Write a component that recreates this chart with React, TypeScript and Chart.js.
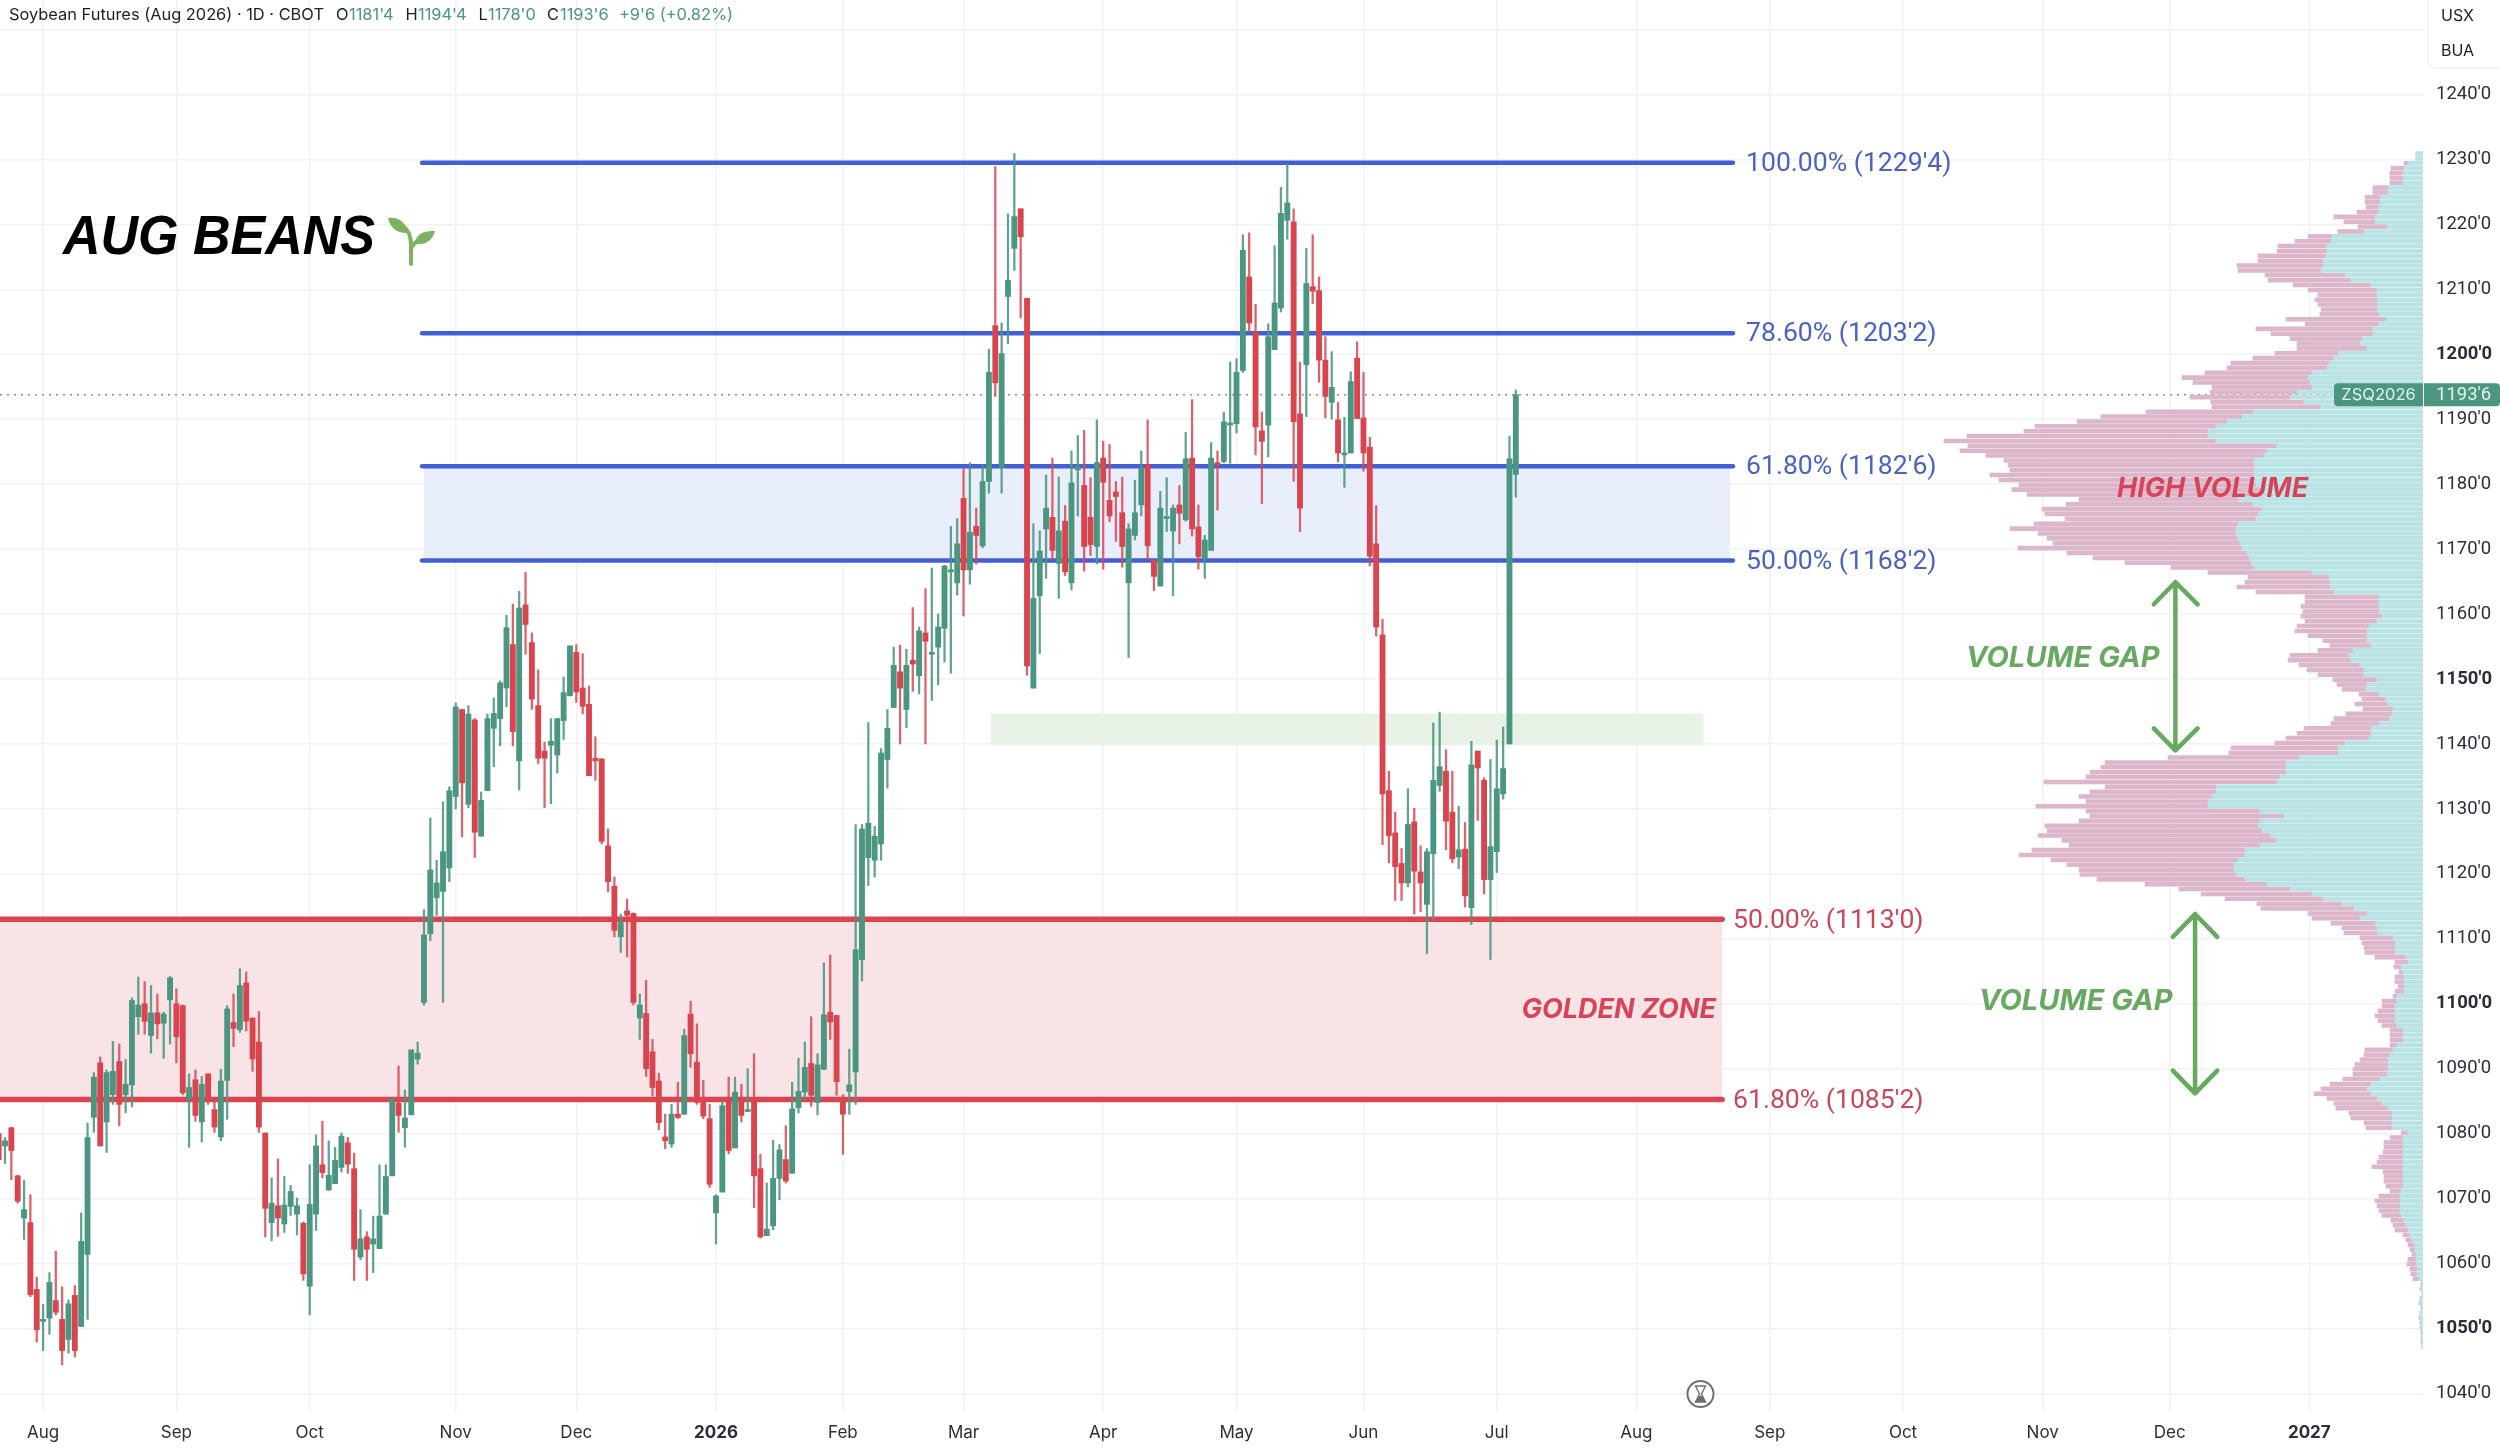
import React, { useEffect, useRef } from "react";
import { Chart, registerables } from "chart.js";

Chart.register(...registerables);

// ---------- candle data (one entry per trading day) ----------
const opens = [
  1080,1078.1,1080.9,1073.5,1067,1066.3,1056,1051.1,1051.6,1054.3,
  1051.4,1048.3,1055.1,1050.3,1061.4,1082.5,1090.9,1081.8,1086,1091.1,
  1086,1087.5,1098,1100,1095.1,1098.6,1097,1100.6,1100,1099.7,
  1085.3,1088.3,1081.8,1089.2,1083.7,1079.5,1088.2,1097.1,1096,1103.2,
  1097.8,1094.1,1080.1,1066.3,1068.9,1066.1,1068.8,1067.6,1066.2,1056.5,
  1067.6,1075.2,1071.3,1072.3,1074.8,1078.6,1074.6,1061,1064.1,1063,
  1062.3,1067.6,1073.5,1084.7,1080.9,1082.9,1091.5,1100.2,1110.8,1116.3,
  1117.3,1120.9,1131.9,1145.3,1130.7,1143.7,1125.8,1132.8,1142.4,1143.9,
  1148.6,1155.3,1137.4,1161.4,1155.6,1145.9,1138.9,1139.8,1138.3,1143.6,
  1147.4,1154.1,1148.6,1146.1,1137.8,1137.7,1124.3,1118.1,1110.3,1114.3,
  1113.9,1097.8,1098.5,1092.6,1088.1,1079.5,1078.4,1083,1083,1098.4,
  1091,1084.8,1082.3,1067.8,1071,1085.3,1077.8,1085.5,1083.4,1084.9,
  1074.6,1064.3,1065.8,1073.1,1076,1073.9,1084,1086.4,1090.8,1084.8,
  1089.9,1098.7,1098.2,1085.6,1086.5,1089.5,1106.8,1122.5,1122.1,1124.6,
  1137.6,1145.6,1151.1,1145.3,1152.9,1150.5,1157.1,1153.8,1154.9,1157.8,
  1166.5,1164.8,1177.8,1166.8,1173.5,1170.5,1180.4,1204.4,1182.6,1208.9,
  1216.3,1222.4,1208.6,1148.6,1162.8,1173.1,1174.9,1167.8,1174.3,1164.8,
  1182.2,1179.8,1174.9,1170.4,1184,1177.5,1178.8,1175.6,1164.8,1172.1,
  1176.8,1183,1168.3,1164.3,1174.7,1172.8,1176.8,1174.5,1184,1173.4,
  1168.5,1169.8,1183.3,1183.5,1189.1,1189.3,1197.5,1211.9,1203.4,1188.2,
  1189.1,1200.7,1207.1,1220.6,1220.4,1190.8,1198.4,1210.4,1209.8,1199.1,
  1192.6,1189.9,1184.5,1184.8,1199.4,1190.2,1185.7,1170.8,1156.8,1132.8,
  1126.3,1121.6,1118.6,1128,1120.3,1115.3,1123.1,1133.6,1135.8,1129.5,
  1122.6,1123.8,1114.8,1138.9,1134.4,1119.1,1123.4,1132.3,1140,1181.5,
];
const highs = [
  1080.5,1079.4,1081,1073.6,1072.8,1070.6,1057.9,1053.7,1058.6,1061.9,
  1056.4,1054.4,1056.6,1067.8,1081.6,1089.4,1091.8,1089.8,1094.2,1093.8,
  1091.4,1100.9,1104.1,1103.4,1102.8,1101.5,1098.7,1104.2,1102.3,1099.8,
  1089.2,1089.8,1088.8,1089.2,1085.6,1089.9,1099.7,1101.5,1105.4,1104.9,
  1097.8,1098.8,1080.1,1073.2,1076.1,1073.4,1072,1070.1,1066.4,1075.2,
  1079.8,1081.9,1078.9,1077.9,1080.1,1079.4,1077,1068.3,1064.9,1067.3,
  1075.2,1075.2,1085.6,1090.4,1086.7,1092.9,1094.1,1114.5,1128.6,1122.1,
  1131.1,1133.4,1146.3,1145.3,1145.9,1143.9,1132.6,1144.6,1147.1,1149.7,
  1159.8,1161.5,1163.5,1166.4,1157.1,1151.4,1140.3,1143.9,1143.9,1150.3,
  1155.1,1155.3,1153.9,1148.9,1141.1,1137.7,1126.9,1119.5,1113.8,1116.1,
  1114,1101.5,1103.6,1094.5,1089.3,1083,1084.5,1087.9,1096.1,1100.4,
  1096.9,1088.2,1084.5,1070.6,1084.9,1088.7,1088.7,1087.6,1090,1092.3,
  1076.8,1072.4,1079,1078.3,1081.2,1087.9,1091.6,1094.1,1098,1092.3,
  1106.3,1107.5,1098.2,1086,1093,1127.6,1127.6,1143.3,1127.3,1139.3,
  1145.3,1154.9,1155.2,1154.6,1161,1158,1163.9,1167.1,1160,1167.5,
  1173.5,1174.7,1182.4,1183.3,1176.3,1183,1200.8,1228.9,1204.8,1221.6,
  1230.9,1222.4,1208.6,1173.9,1172.8,1181.4,1184,1181.1,1176.7,1185.1,
  1187.5,1188.3,1181,1189.9,1186.6,1186.1,1180.4,1181.1,1173.9,1180.6,
  1185.1,1189.9,1168.3,1178.9,1181,1176.8,1179.8,1188,1193,1176.8,
  1172.1,1186.4,1185.1,1191.1,1198.8,1199.3,1218.4,1218.7,1207.7,1191.1,
  1204.7,1216.7,1225.7,1229.3,1222.4,1198.8,1216.3,1218.4,1211.9,1202.7,
  1200.4,1192.6,1190.3,1197.3,1201.9,1197.2,1187.2,1176.7,1159.2,1135.8,
  1129.5,1123.9,1133.1,1130.1,1124.3,1123.9,1143.2,1144.9,1139.1,1135.8,
  1130.4,1127.9,1140.4,1138.9,1134.8,1137.6,1140.6,1142.6,1187.4,1194.5,
];
const lows = [
  1075,1075.4,1072.9,1069.3,1063.7,1054.9,1047.9,1046.6,1049.1,1052.1,
  1044.4,1046.2,1045.6,1050.3,1051.4,1080.2,1078.1,1077.1,1084.5,1081.2,
  1083.2,1084.1,1095.3,1095.3,1092.4,1094.6,1091.6,1093.8,1090.9,1086,
  1077.9,1081.9,1078.7,1084.5,1080.2,1078.9,1082.2,1093.4,1095.6,1095.8,
  1089.6,1080.2,1064.1,1063.5,1064.2,1064.8,1067.4,1064.4,1057.4,1052.1,
  1065.1,1073.2,1071.3,1072.3,1074.1,1073.9,1057.4,1060.6,1057.4,1058.6,
  1062.3,1067.6,1073.5,1080.2,1077.9,1082.9,1090.7,1099.8,1109.7,1113.6,
  1100.2,1118.8,1130,1125.7,1130.2,1122.5,1125.8,1132.8,1136.5,1139.7,
  1145.7,1139.7,1132.9,1153.8,1145.3,1137,1130.2,1130.8,1135.5,1140.7,
  1147.4,1146.4,1144.6,1135.1,1134.4,1124.6,1117.2,1110.3,1107.9,1107.2,
  1099.8,1094.5,1088.8,1085.8,1080.6,1077.7,1077.9,1082.3,1082.9,1090.2,
  1084.5,1082.3,1071.7,1063,1071,1076.9,1077.8,1081.8,1083.4,1068.6,
  1063.9,1064.3,1065.2,1069.8,1072.4,1073.9,1083.2,1085.3,1084.2,1082.9,
  1089.9,1094.5,1085.9,1076.8,1083,1084.5,1103.5,1118.2,1119.5,1122.1,
  1133.2,1145.6,1140,1142.5,1148.1,1147.7,1140,1146.7,1149.1,1152.6,
  1150.9,1162.9,1159.7,1164.6,1167.7,1170.2,1178.6,1193.5,1178.6,1201.6,
  1212.9,1205.6,1150.6,1148.6,1153.9,1165.5,1168.4,1162.4,1165.9,1163.7,
  1175.1,1166.6,1169,1167.7,1166.9,1174.2,1171.2,1167.2,1153.3,1171.4,
  1175.1,1168.4,1163.6,1164.3,1172.7,1162.8,1170.8,1174.3,1172,1166.9,
  1165.5,1169.8,1176,1183.3,1183.2,1187.9,1197.2,1203.4,1184.5,1177,
  1184.2,1200.7,1206.5,1217.7,1180.4,1172.7,1190.4,1207.8,1195.7,1190.2,
  1190,1183.4,1179.5,1184.8,1190.1,1182,1167.4,1156.6,1124.5,1121.7,
  1115.9,1115.9,1118,1113.8,1114.2,1107.7,1112.8,1132.7,1123.7,1121.7,
  1120.8,1114.9,1112.2,1128.2,1116.9,1106.8,1120.2,1131.5,1140,1178,
];
const closes = [
  1076,1078.9,1077.4,1069.6,1068.3,1055.2,1049.8,1051.3,1057.1,1052.5,
  1046.6,1053.8,1046.6,1063.4,1079.4,1088.7,1078.1,1089.4,1089.6,1084.5,
  1087.6,1100.5,1099.8,1097.3,1098.6,1096.9,1098.4,1104,1094.9,1086.3,
  1087.1,1082.8,1087.6,1085.5,1081,1088.1,1099.2,1096.2,1102.8,1097.3,
  1091.5,1081,1068.5,1069.3,1067,1069,1071.1,1068.9,1058.4,1069.1,
  1078.1,1074,1073.6,1075.9,1079.6,1075.3,1062.2,1063.8,1062.2,1063.8,
  1067.3,1073.4,1085.2,1082.8,1082.4,1092.9,1092.4,1110.6,1120.6,1118.6,
  1123.4,1132.8,1145.7,1134,1144.6,1126.4,1131.3,1143.9,1144.7,1149.4,
  1157.9,1141.9,1160.9,1158.4,1146.9,1137.8,1137.8,1140.4,1143.9,1147.9,
  1155.1,1148,1145.8,1135.1,1137.4,1125,1118.8,1111.3,1112.5,1113.6,
  1100.2,1099.8,1090,1087.1,1081.7,1078.9,1083,1082.5,1095.1,1092.3,
  1084.8,1082.7,1072.2,1070.4,1084.3,1077.4,1086.4,1082.8,1083.7,1073.5,
  1064.1,1065.3,1073.1,1077.5,1072.7,1083.8,1086.5,1090.2,1085.9,1090.6,
  1098.3,1097.2,1088,1083,1087.5,1108.3,1126.9,1127.8,1125.8,1138.6,
  1142.4,1152.1,1148.6,1152.1,1152.3,1157.4,1155.8,1154,1158,1167.4,
  1166.6,1170.8,1166.8,1172.6,1172.1,1180.4,1197.2,1195.6,1200.1,1211.4,
  1221.2,1218.1,1152,1162.4,1169.7,1176.3,1169.8,1172.8,1166.5,1180.2,
  1182.7,1170.4,1170.7,1183.3,1180.3,1175.1,1178.1,1170.4,1173.1,1175.6,
  1182.4,1170.5,1165.8,1176.3,1174.8,1176.3,1175.5,1183.9,1173.1,1168.8,
  1171.4,1184,1183,1189.6,1189.3,1197.2,1216,1204.8,1188.8,1186.6,
  1202.7,1207.9,1221.7,1223.3,1189.6,1176.3,1210.9,1209.7,1199.1,1193.5,
  1194.9,1184.8,1184.8,1195.8,1190.1,1184.8,1168.9,1158,1132.3,1125.9,
  1121.1,1118.6,1127.6,1120.4,1118.6,1123.4,1134.4,1136.5,1128.1,1122.3,
  1123.7,1116.6,1136.8,1136.3,1119.1,1124.2,1133.1,1136.2,1183.9,1193.75,
];

// ---------- volume profile, one row per 0'6 of price, top to bottom ----------
const upVolume = [
  7,7,15,19,20,20,20,35,35,43,
  43,44,44,48,48,36,59,91,92,96,
  96,97,100,100,102,78,72,52,46,46,
  46,46,46,44,37,44,50,50,61,63,56,
  85,89,94,96,111,115,113,111,126,133,
  119,102,170,181,196,207,215,215,207,146,
  156,159,169,169,169,169,169,167,161,161,
  185,170,161,165,167,185,187,187,185,183,
  181,176,174,172,169,111,94,93,93,89,
  44,44,44,44,41,46,54,56,56,56,52,
  70,74,72,63,59,59,46,56,57,44,
  37,35,30,31,33,44,52,52,54,78,85,
  85,124,137,137,137,143,146,207,207,211,
  215,215,163,139,163,165,161,152,146,163,
  178,178,185,189,189,187,178,156,133,111,
  100,81,69,56,63,48,46,46,30,28,
  28,28,17,15,22,20,19,19,19,19,
  26,26,28,28,28,28,26,20,20,20,
  26,30,33,35,35,35,36,43,52,56,
  52,46,41,35,31,31,31,31,15,20,
  20,20,20,20,20,20,20,20,20,20,
  22,23,23,23,23,22,19,17,15,13,
  11,9,8,7,7,7,6,6,4,
  1,2,1,2,3,1,3,3,2,3,1,2,1,1,
];
const downVolume = [
  0,0,4,13,13,13,13,15,15,15,
  15,13,22,41,31,29,26,24,36,49,
  50,68,65,86,83,80,83,78,69,59,
  62,59,56,59,100,74,117,102,72,63,70,
  63,81,98,100,107,126,117,100,87,100,
  93,109,107,141,150,181,184,241,272,309,
  307,278,250,246,244,264,255,237,250,235,
  159,187,220,213,191,204,226,198,191,187,
  224,180,156,126,83,104,81,85,93,78,
  74,74,78,76,81,72,72,72,59,44,41,
  35,59,63,61,57,46,44,30,24,20,
  24,33,30,46,56,48,67,74,83,70,107,
  109,131,181,185,196,194,233,111,126,133,
  122,172,174,194,181,213,215,233,215,191,
  213,226,187,167,155,156,148,122,111,111,
  98,85,93,59,48,44,35,33,33,33,
  31,30,31,13,7,4,9,9,6,9,
  4,15,13,17,20,17,15,13,13,13,
  7,28,26,28,33,35,34,37,41,46,
  57,50,48,52,43,41,28,26,7,13,
  19,19,20,24,26,31,20,19,19,17,
  11,21,25,23,21,19,13,13,13,7,
  6,6,5,4,8,9,7,6,6,
  1,1,0,1,1,1,0,1,1,0,1,0,1,0,
];
const volumeTopPrice = 1230.9;
const volumeRowStep = 0.75;
const volumeRowPrices = upVolume.map((_, r) => volumeTopPrice - r * volumeRowStep);

// ---------- levels ----------
const blueFibLevels = [1229.5, 1203.25, 1182.75, 1168.25];
const blueFibLabels = ["100.00% (1229'4)", "78.60% (1203'2)", "61.80% (1182'6)", "50.00% (1168'2)"];
const redFibLevels = [1113, 1085.25];
const redFibLabels = ["50.00% (1113'0)", "61.80% (1085'2)"];
const lastPrice = 1193.75;
const gapZone = [1139.8, 1144.7];

// ---------- axes ----------
const priceTicks = [1040,1050,1060,1070,1080,1090,1100,1110,1120,1130,1140,1150,1160,1170,1180,1190,1200,1210,1220,1230,1240,1250];
const boldPriceTicks = [1050, 1100, 1150, 1200];
const hiddenPriceTicks = [1250];
const monthTickBars = [7,28,49,72,91,113,133,152,174,195,215,236,258,279,300,322,342,364];
const monthTickLabels = ["Aug","Sep","Oct","Nov","Dec","2026","Feb","Mar","Apr","May","Jun","Jul","Aug","Sep","Oct","Nov","Dec","2027"];
const boldMonthLabels = ["2026", "2027"];

// ---------- arrows (bar number, price) ----------
const upperGapArrowBars = [339.5,342.9,346.4,342.9,342.9,339.5,342.9,346.4];
const upperGapArrowPrices = [1161.5,1164.9,1161.5,1164.9,1139,1142.4,1139,1142.4];
const lowerGapArrowBars = [342.5,346,349.5,346,346,342.5,346,349.5];
const lowerGapArrowPrices = [1110.3,1113.8,1110.3,1113.8,1086.2,1089.7,1086.2,1089.7];

// ---------- styling ----------
const WIDTH = 2500;
const HEIGHT = 1448;
const AXIS_W = 77;
const AXIS_H = 36;
const PLOT_W = WIDTH - AXIS_W;
const BAR_PX = 6.348;
const X_MIN = 0.2127;
const X_MAX = X_MIN + PLOT_W / BAR_PX;
const Y_MAX = 1254.54;
const Y_MIN = 1037.14;
const GREEN = "#4a9680";
const RED = "#d9454f";
const GREEN_WICK = "rgba(74,150,128,0.88)";
const RED_WICK = "rgba(217,69,79,0.85)";
const BLUE_LINE = "#4160d8";
const RED_LINE = "#dc4550";
const BLUE_TEXT = "#4a63c0";
const RED_TEXT = "#c8485a";
const NOTE_GREEN = "#67a960";
const NOTE_RED = "#d8435a";
const GRID = "#f1f2f4";
const FONT = "Inter";
const NUM_FONT = "Roboto";

const hline = (x0: number, x1: number, y: number) => [{ x: x0, y }, { x: x1, y }];

function lineSet(data: any[], color: string, width: number, order: number, extra: any = {}) {
  return {
    type: "line",
    data,
    borderColor: color,
    borderWidth: width,
    pointRadius: 0,
    borderCapStyle: "round",
    borderJoinStyle: "round",
    tension: 0,
    fill: false,
    order,
    ...extra,
  };
}

function bandSet(x0: number, x1: number, top: number, bottom: number, color: string, order: number) {
  return lineSet(hline(x0, x1, top), "rgba(0,0,0,0)", 0, order, {
    fill: { value: bottom },
    backgroundColor: color,
  });
}

const text = (
  ctx: CanvasRenderingContext2D,
  s: string,
  x: number,
  y: number,
  font: string,
  color: string,
  align: CanvasTextAlign = "left"
) => {
  ctx.font = font;
  ctx.fillStyle = color;
  ctx.textAlign = align;
  ctx.textBaseline = "middle";
  ctx.fillText(s, x, y);
};

const overlayPlugin = {
  id: "overlay",
  afterDatasetsDraw(chart: any) {
    const ctx: CanvasRenderingContext2D = chart.ctx;
    const yS = chart.scales.y;
    ctx.save();

    // fib labels
    blueFibLevels.forEach((lvl, i) =>
      text(ctx, blueFibLabels[i], 1746, yS.getPixelForValue(lvl) + 1.5, `400 26.6px ${NUM_FONT}`, BLUE_TEXT)
    );
    redFibLevels.forEach((lvl, i) =>
      text(ctx, redFibLabels[i], 1733, yS.getPixelForValue(lvl) + 2, `400 26.6px ${NUM_FONT}`, RED_TEXT)
    );

    // notes
    const noteFont = `italic 700 27px ${FONT}`;
    text(ctx, "GOLDEN ZONE", 1716, 1009.5, noteFont, NOTE_RED, "right");
    text(ctx, "HIGH VOLUME", 2117, 489, noteFont, NOTE_RED);
    text(ctx, "VOLUME GAP", 1966, 658.5, `italic 700 29px ${FONT}`, NOTE_GREEN);
    text(ctx, "VOLUME GAP", 1979, 1001.5, `italic 700 29px ${FONT}`, NOTE_GREEN);

    // title, a little condensed
    ctx.save();
    ctx.translate(63, 239);
    ctx.scale(0.945, 1);
    text(ctx, "AUG BEANS", 0, 0, `italic 700 55px "Liberation Sans"`, "#000000");
    ctx.restore();

    // sprout
    ctx.strokeStyle = "#7fb162";
    ctx.fillStyle = "#7fb162";
    ctx.lineWidth = 4;
    ctx.lineCap = "round";
    ctx.beginPath();
    ctx.moveTo(411, 264);
    ctx.lineTo(411, 245);
    ctx.quadraticCurveTo(411, 232, 403, 226);
    ctx.moveTo(411, 250);
    ctx.quadraticCurveTo(412, 244, 418, 241);
    ctx.stroke();
    ctx.beginPath();
    ctx.moveTo(388, 218);
    ctx.quadraticCurveTo(404, 216, 408, 233);
    ctx.quadraticCurveTo(392, 234, 388, 218);
    ctx.fill();
    ctx.beginPath();
    ctx.moveTo(435, 231);
    ctx.quadraticCurveTo(431, 246, 414, 244);
    ctx.quadraticCurveTo(417, 230, 435, 231);
    ctx.fill();

    // header
    const hFont = `400 16.4px ${FONT}`;
    const hY = 15.5;
    text(ctx, "Soybean Futures (Aug 2026) \u00b7 1D \u00b7 CBOT", 9, hY, hFont, "#1b1f27");
    const headerLetters: [string, number][] = [["O", 336], ["H", 405.5], ["L", 478.5], ["C", 547]];
    const headerValues: [string, number][] = [["1181'4", 349], ["1194'4", 418], ["1178'0", 488], ["1193'6", 560], ["+9'6 (+0.82%)", 619]];
    headerLetters.forEach(([s, x]) => text(ctx, s, x, hY, hFont, "#1b1f27"));
    headerValues.forEach(([s, x]) => text(ctx, s, x, hY, hFont, GREEN));

    // currency / unit box
    ctx.fillStyle = "#ffffff";
    ctx.strokeStyle = "#f0f1f3";
    ctx.lineWidth = 1.5;
    ctx.beginPath();
    ctx.roundRect(2428, -10, 90, 78, 8);
    ctx.fill();
    ctx.stroke();
    text(ctx, "USX", 2441, 16, `400 16px ${FONT}`, "#1b1f27");
    text(ctx, "BUA", 2441, 51, `400 16px ${FONT}`, "#1b1f27");

    // last price tags
    const tagY = yS.getPixelForValue(lastPrice);
    ctx.fillStyle = GREEN;
    ctx.beginPath();
    ctx.roundRect(2334, tagY - 11.5, 89, 23, [4, 0, 0, 4]);
    ctx.fill();
    ctx.beginPath();
    ctx.roundRect(2424, tagY - 11.5, 76, 23, [0, 4, 4, 0]);
    ctx.fill();
    text(ctx, "ZSQ2026", 2378.5, tagY + 0.5, `400 16.5px ${FONT}`, "#e4f2ee", "center");
    text(ctx, "1193'6", 2436, tagY + 0.5, `400 18.5px ${NUM_FONT}`, "#e4f2ee");

    // hourglass
    const hx = 1700.5;
    const hyc = 1394;
    ctx.strokeStyle = "#6f6f6f";
    ctx.lineWidth = 2;
    ctx.fillStyle = "#ffffff";
    ctx.beginPath();
    ctx.arc(hx, hyc, 13, 0, Math.PI * 2);
    ctx.fill();
    ctx.stroke();
    ctx.fillStyle = "#6f6f6f";
    ctx.lineWidth = 1.4;
    ctx.beginPath();
    ctx.moveTo(hx - 5, hyc - 8);
    ctx.lineTo(hx + 5, hyc - 8);
    ctx.lineTo(hx + 1, hyc);
    ctx.lineTo(hx + 5, hyc + 8);
    ctx.lineTo(hx - 5, hyc + 8);
    ctx.lineTo(hx - 1, hyc);
    ctx.closePath();
    ctx.stroke();
    ctx.beginPath();
    ctx.moveTo(hx - 5, hyc + 8);
    ctx.lineTo(hx + 5, hyc + 8);
    ctx.lineTo(hx + 2, hyc + 2);
    ctx.lineTo(hx - 2, hyc + 2);
    ctx.closePath();
    ctx.fill();

    ctx.restore();
  },
};

export default function App() {
  const ref = useRef<HTMLCanvasElement | null>(null);

  useEffect(() => {
    if (!ref.current) return;

    const candleColors = closes.map((c, i) => (c >= opens[i] ? GREEN : RED));
    const wickColors = closes.map((c, i) => (c >= opens[i] ? GREEN_WICK : RED_WICK));
    const wickData = highs.map((h, i) => ({ x: i, y: [lows[i], h] }));
    const bodyData = opens.map((o, i) => ({ x: i, y: [Math.min(o, closes[i]), Math.max(o, closes[i])] }));

    const barCommon = {
      type: "bar",
      grouped: false,
      categoryPercentage: 1,
      barPercentage: 1,
      borderWidth: 0,
    };

    const datasets: any[] = [
      // zones
      bandSet(X_MIN, 271.5, redFibLevels[0], redFibLevels[1], "#f8e3e6", 100),
      bandSet(67, 272.8, blueFibLevels[2], blueFibLevels[3], "#e9eefc", 99),
      bandSet(156.3, 268.6, gapZone[1], gapZone[0], "#e8f2e6", 98),
      // level lines
      ...redFibLevels.map((l) => lineSet(hline(X_MIN, 271.5, l), RED_LINE, 5.5, 90)),
      ...blueFibLevels.map((l) => lineSet(hline(66.7, 273.2, l), BLUE_LINE, 4.5, 90)),
      lineSet(hline(X_MIN, X_MAX, lastPrice), "#8f8f8f", 1.5, 85, { borderDash: [2, 5], borderCapStyle: "butt" }),
      // volume profile
      {
        ...barCommon,
        indexAxis: "y",
        xAxisID: "vol",
        yAxisID: "y",
        stack: "profile",
        data: upVolume.map((v, r) => ({ x: v, y: volumeRowPrices[r] })),
        backgroundColor: "#b9e3e4",
        barThickness: 3.9,
        order: 80,
      },
      {
        ...barCommon,
        indexAxis: "y",
        xAxisID: "vol",
        yAxisID: "y",
        stack: "profile",
        data: downVolume.map((v, r) => ({ x: v, y: volumeRowPrices[r] })),
        backgroundColor: "#dcb6ca",
        barThickness: 3.9,
        order: 80,
      },
      // candles
      { ...barCommon, data: wickData, backgroundColor: wickColors, barThickness: 1.6, order: 20 },
      { ...barCommon, data: bodyData, backgroundColor: candleColors, barThickness: 5.2, minBarLength: 2, order: 10 },
      // arrows
      lineSet(upperGapArrowBars.map((x, i) => ({ x, y: upperGapArrowPrices[i] })), NOTE_GREEN, 4.5, 5),
      lineSet(lowerGapArrowBars.map((x, i) => ({ x, y: lowerGapArrowPrices[i] })), NOTE_GREEN, 4.5, 5),
    ];

    const chart = new Chart(ref.current, {
      type: "bar",
      data: { datasets },
      options: {
        responsive: false,
        animation: false,
        devicePixelRatio: 1,
        events: [],
        layout: { padding: 0 },
        plugins: { legend: { display: false }, tooltip: { enabled: false }, title: { display: false } },
        scales: {
          x: {
            type: "linear",
            min: X_MIN,
            max: X_MAX,
            offset: false,
            position: "bottom",
            border: { display: false },
            grid: { color: GRID, lineWidth: 1.5, offset: false, drawTicks: false, tickLength: 0 },
            afterBuildTicks: (s: any) => {
              s.ticks = monthTickBars.map((value) => ({ value }));
            },
            afterFit: (s: any) => {
              s.height = AXIS_H;
              s.paddingLeft = 0;
              s.paddingRight = 0;
            },
            ticks: {
              autoSkip: false,
              maxRotation: 0,
              minRotation: 0,
              padding: 11,
              color: "#2a2e39",
              callback: (v: any) => monthTickLabels[monthTickBars.indexOf(Number(v))] ?? "",
              font: (c: any) => ({
                family: FONT,
                size: 17,
                weight: boldMonthLabels.includes(monthTickLabels[monthTickBars.indexOf(c.tick?.value)]) ? "700" : "400",
              }),
            },
          },
          y: {
            type: "linear",
            min: Y_MIN,
            max: Y_MAX,
            offset: false,
            position: "right",
            border: { display: false },
            grid: { color: GRID, lineWidth: 1.5, offset: false, drawTicks: false, tickLength: 0 },
            afterBuildTicks: (s: any) => {
              s.ticks = priceTicks.map((value) => ({ value }));
            },
            afterFit: (s: any) => {
              s.width = AXIS_W;
              s.paddingTop = 0;
              s.paddingBottom = 0;
            },
            ticks: {
              autoSkip: false,
              padding: 13,
              color: "#2a2e39",
              callback: (v: any) => (hiddenPriceTicks.includes(Number(v)) ? "" : `${v}'0`),
              font: (c: any) => ({
                family: NUM_FONT,
                size: 18.5,
                weight: boldPriceTicks.includes(c.tick?.value) ? "700" : "400",
              }),
            },
          },
          vol: {
            type: "linear",
            axis: "x",
            display: false,
            reverse: true,
            stacked: true,
            offset: false,
            min: 0,
            max: PLOT_W,
            grid: { display: false, offset: false },
          },
        },
      } as any,
      plugins: [overlayPlugin],
    } as any);

    return () => chart.destroy();
  }, []);

  return (
    <div style={{ position: "absolute", left: 0, top: 0, width: WIDTH, height: HEIGHT, overflow: "hidden", background: "#fff" }}>
      <canvas ref={ref} width={WIDTH} height={HEIGHT} style={{ display: "block", width: WIDTH, height: HEIGHT }} />
    </div>
  );
}
